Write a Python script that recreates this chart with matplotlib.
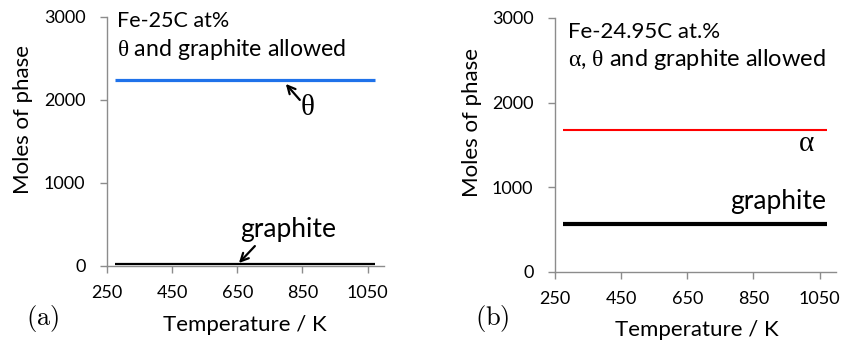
import matplotlib.pyplot as plt

plt.rcParams['font.family'] = ['Lato', 'DejaVu Sans']
# Greek symbols in an upright Times-like face
plt.rcParams['mathtext.fontset'] = 'custom'
plt.rcParams['mathtext.rm'] = 'Liberation Serif'
plt.rcParams['mathtext.it'] = 'Liberation Serif'
plt.rcParams['mathtext.bf'] = 'Liberation Serif:bold'

# temperature range of the calculation (K)
temps = [273, 1073]

# (a) Fe-25C at%, theta and graphite allowed
theta_a = [2240, 2240]
graphite_a = [20, 20]

# (b) Fe-24.95C at.%, alpha, theta and graphite allowed
alpha_b = [1678, 1678]
graphite_b = [565, 565]

xticks = [250, 450, 650, 850, 1050]
yticks = [0, 1000, 2000, 3000]
axis_grey = '#8c8c8c'


def style_axes(ax):
    ax.set_xlim(250, 1100)
    ax.set_ylim(0, 3000)
    ax.set_xticks(xticks)
    ax.set_yticks(yticks)
    for s in ['top', 'right']:
        ax.spines[s].set_visible(False)
    for s in ['left', 'bottom']:
        ax.spines[s].set_color(axis_grey)
        ax.spines[s].set_linewidth(1.0)
    ax.tick_params(direction='out', length=5, width=1.0, color=axis_grey,
                   labelsize=13, pad=10.5)
    ax.tick_params(axis='x', pad=9)


def arrow(ax, tip, tail):
    ax.annotate('', xy=tip, xytext=tail,
                arrowprops=dict(arrowstyle='->', color='black', lw=1.6,
                                shrinkA=0, shrinkB=0, mutation_scale=14))


fig = plt.figure(figsize=(8.44, 3.45), dpi=100)

ax1 = fig.add_axes([0.1268, 0.229, 0.328, 0.722])
style_axes(ax1)
ax1.plot(temps, theta_a, color='#1f72ea', lw=2.3, solid_capstyle='butt')
ax1.plot(temps, graphite_a, color='black', lw=1.6, solid_capstyle='butt')
ax1.text(281, 2952, 'Fe-25C at%', fontsize=15.5, va='center', ha='left')
ax1.text(281, 2602, r'$\theta$ and graphite allowed', fontsize=16.7,
         va='center', ha='left')
ax1.text(865, 1910, r'$\theta$', fontsize=21, ha='center', va='center')
arrow(ax1, (799, 2193), (842, 2000))
ax1.text(805, 434, 'graphite', fontsize=19, ha='center', va='center')
arrow(ax1, (655, 36), (704, 240))

ax2 = fig.add_axes([0.6576, 0.2116, 0.333, 0.7364])
style_axes(ax2)
ax2.plot(temps, alpha_b, color='#ff0000', lw=1.5, solid_capstyle='butt')
ax2.plot(temps, graphite_b, color='black', lw=3.0, solid_capstyle='butt')
ax2.text(289, 2835, 'Fe-24.95C at.%', fontsize=16, va='center', ha='left')
ax2.text(289, 2504, r'$\alpha$, $\theta$ and graphite allowed', fontsize=17,
         va='center', ha='left')
ax2.text(1011, 1524, r'$\alpha$', fontsize=21, ha='center', va='center')
ax2.text(1071, 827, 'graphite', fontsize=19, ha='right', va='center')

fig.text(245 / 844, 1 - 325 / 345, 'Temperature / K', fontsize=16,
         ha='center', va='center')
fig.text(697 / 844, 1 - 330 / 345, 'Temperature / K', fontsize=16,
         ha='center', va='center')
fig.text(23 / 844, 1 - 120 / 345, 'Moles of phase', fontsize=16,
         rotation=90, ha='center', va='center')
fig.text(472 / 844, 1 - 123 / 345, 'Moles of phase', fontsize=16,
         rotation=90, ha='center', va='center')
fig.text(43 / 844, 1 - 318 / 345, r'$\mathrm{(a)}$', fontsize=19,
         ha='center', va='center', math_fontfamily='cm')
fig.text(492 / 844, 1 - 318 / 345, r'$\mathrm{(b)}$', fontsize=19,
         ha='center', va='center', math_fontfamily='cm')

fig.savefig('out.png', dpi=100)
